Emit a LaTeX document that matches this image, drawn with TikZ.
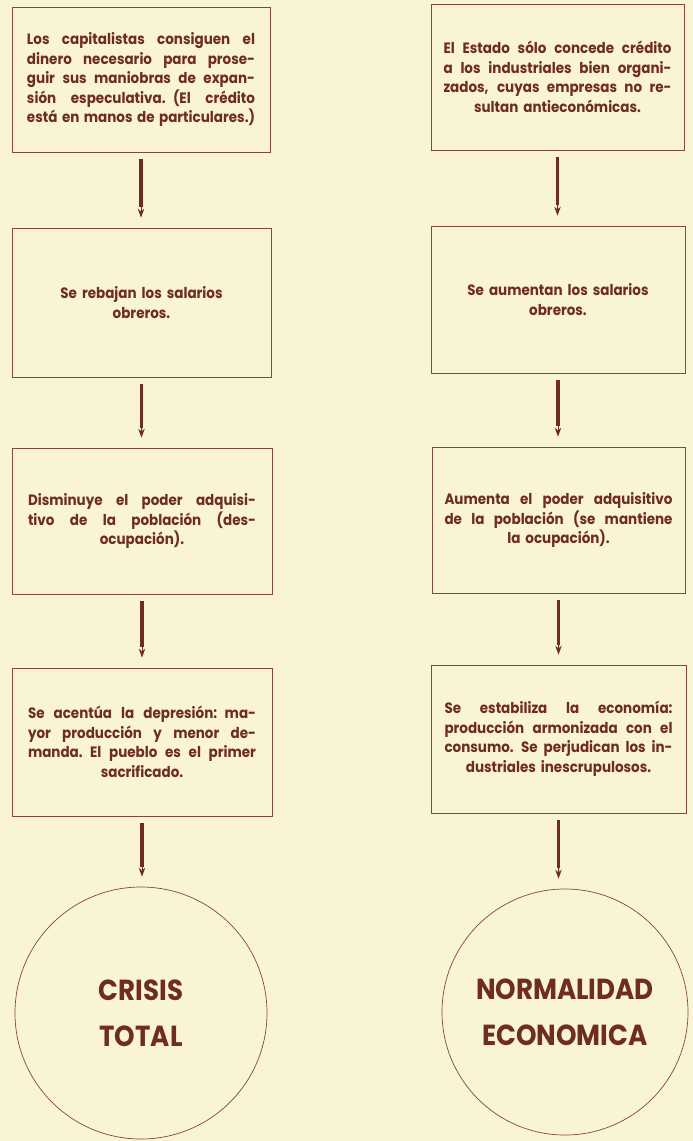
\documentclass[tikz,border=0pt]{standalone}
\usepackage{fontspec}
\setmainfont{Poppins}[FakeStretch=0.9]
\usetikzlibrary{calc,arrows.meta}
\definecolor{paper}{HTML}{F9F4D2}
\definecolor{ink}{HTML}{6E2C22}
\definecolor{rule}{HTML}{85473A}
\newlength\tw
\setlength\tw{228pt}
\newcommand\jl[1]{\makebox[\tw][s]{\spaceskip=0.2em plus 1fil\relax #1}}
\tikzset{
  stepbox/.style={draw=rule, line width=0.7pt, rectangle, inner sep=0pt,
    text width=\tw, align=center, text=ink,
    font=\fontsize{15}{19.5}\selectfont\bfseries},
  endcircle/.style={draw=rule, line width=0.7pt, circle, inner sep=0pt,
    align=center, text=ink, font=\fontsize{29}{46}\selectfont\bfseries},
  thickpart/.style={draw=ink, line width=3.2pt},
  thinpart/.style={draw=ink, line width=1pt, -{Stealth[length=9pt,width=6.5pt]}}
}
\newcommand\flowarrow[2]{%
  \path[thickpart] ([yshift=-7pt]#1.south) -- ($(#1.south)!0.72!(#1.south |- #2.north)$);
  \path[thinpart] ($(#1.south)!0.70!(#1.south |- #2.north)$) -- ([yshift=10pt]#1.south |- #2.north);
}
\begin{document}
\begin{tikzpicture}[x=1pt,y=-1pt]
\fill[paper] (0,0) rectangle (693,1141);
% left column
\node[stepbox, minimum width=258pt, minimum height=145pt] (L1) at (141,79.5)
 {\jl{Los capitalistas consiguen el}\\\jl{dinero necesario para prose-}\\\jl{guir sus maniobras de expan-}\\\jl{sión especulativa. (El crédito}\\\jl{está en manos de particulares.)}};
\node[stepbox, minimum width=259pt, minimum height=149pt] (L2) at (141.5,302.5)
 {Se rebajan los salarios\\obreros.};
\node[stepbox, minimum width=260pt, minimum height=146pt] (L3) at (142,521)
 {\jl{Disminuye el poder adquisi-}\\\jl{tivo de la población (des-}\\ocupación).};
\node[stepbox, minimum width=260pt, minimum height=148pt] (L4) at (142,742)
 {\jl{Se acentúa la depresión: ma-}\\\jl{yor producción y menor de-}\\\jl{manda. El pueblo es el primer}\\sacrificado.};
\node[endcircle, minimum size=252pt] (LC) at (141,1013) {CRISIS\\TOTAL};
% right column
\node[stepbox, minimum width=253pt, minimum height=146pt] (R1) at (557.5,77)
 {\jl{El Estado sólo concede crédito}\\\jl{a los industriales bien organi-}\\\jl{zados, cuyas empresas no re-}\\sultan antieconómicas.};
\node[stepbox, minimum width=254pt, minimum height=147pt] (R2) at (558,299.5)
 {Se aumentan los salarios\\obreros.};
\node[stepbox, minimum width=253pt, minimum height=146pt] (R3) at (558.5,520)
 {\jl{Aumenta el poder adquisitivo}\\\jl{de la población (se mantiene}\\la ocupación).};
\node[stepbox, minimum width=255pt, minimum height=148pt] (R4) at (558.5,739)
 {\jl{Se estabiliza la economía:}\\\jl{producción armonizada con el}\\\jl{consumo. Se perjudican los in-}\\dustriales inescrupulosos.};
\node[endcircle, minimum size=246pt] (RC) at (565,1012) {NORMALIDAD\\ECONOMICA};
% arrows
\flowarrow{L1}{L2}
\flowarrow{L2}{L3}
\flowarrow{L3}{L4}
\flowarrow{L4}{LC}
\flowarrow{R1}{R2}
\flowarrow{R2}{R3}
\flowarrow{R3}{R4}
\flowarrow{R4}{RC}
\end{tikzpicture}
\end{document}
